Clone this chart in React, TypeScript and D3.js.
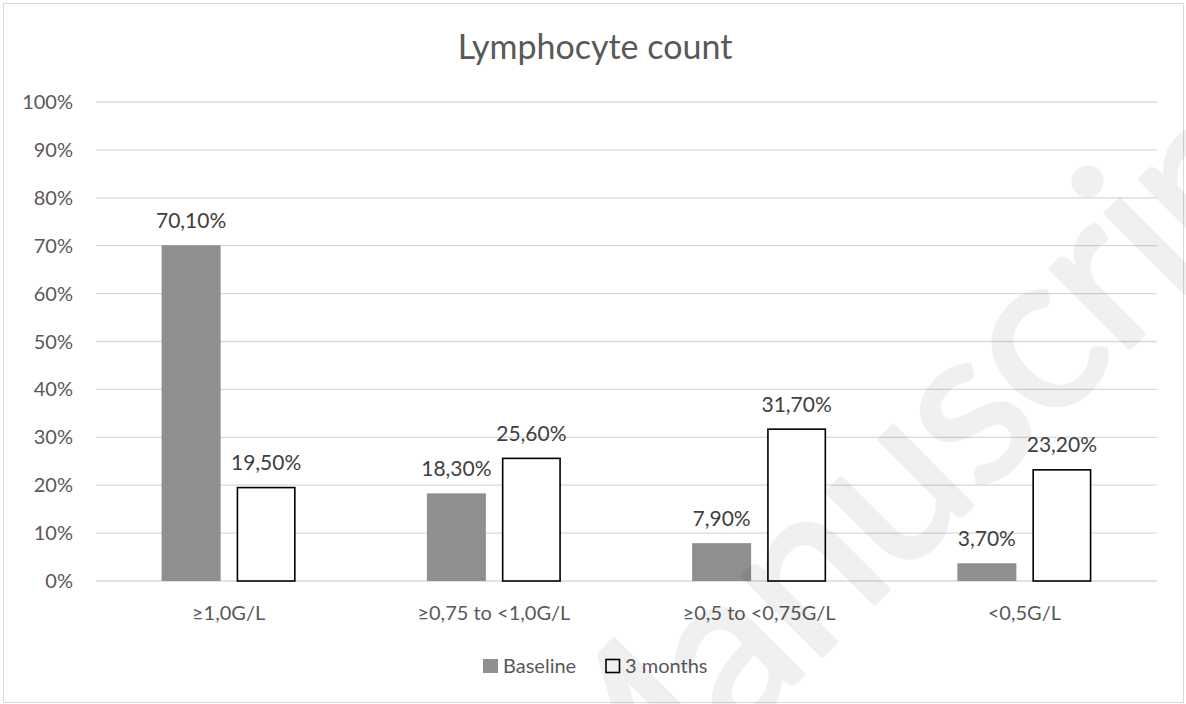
import React from "react";
import * as d3 from "d3";

const categories = ["≥1,0G/L", "≥0,75 to <1,0G/L", "≥0,5 to <0,75G/L", "<0,5G/L"];
const seriesNames = ["Baseline", "3 months"];
const baseline = [70.1, 18.3, 7.9, 3.7];
const months3 = [19.5, 25.6, 31.7, 23.2];
const yTicks = [0, 10, 20, 30, 40, 50, 60, 70, 80, 90, 100];
const title = "Lymphocyte count";
const watermark = "Manuscript";

const W = 1186;
const H = 704;
const FONT = "Lato, 'Open Sans', sans-serif";
const TXT = "#595959";

export default function App() {
  const x0 = d3.scaleBand<string>().domain(categories).range([96, 1157]).paddingInner(0).paddingOuter(0);
  const y = d3.scaleLinear().domain([0, 100]).range([581, 102]);
  const barW = 59;
  const gap = 16;
  const fmt = (v: number) => v.toFixed(2).replace(".", ",") + "%";
  const series = [
    { name: seriesNames[0], values: baseline, fill: "#8f8f8f", stroke: "none" },
    { name: seriesNames[1], values: months3, fill: "#ffffff", stroke: "#000000" },
  ];
  return (
    <svg width={W} height={H} style={{ position: "absolute", left: 0, top: 0, fontFamily: FONT }}>
      <rect x={0} y={0} width={W} height={H} fill="#fff" />
      <rect x={3.5} y={3.5} width={1180} height={699} fill="#fff" stroke="#d9d9d9" strokeWidth={1} />
      {yTicks.map((t) => (
        <g key={t}>
          <line x1={96} x2={1157} y1={y(t)} y2={y(t)} stroke="#d9d9d9" strokeWidth={1.3} />
          <text x={73} y={y(t) + 7} textAnchor="end" fontSize={20} fill={TXT}>
            {t + "%"}
          </text>
        </g>
      ))}
      <text x={595} y={59} textAnchor="middle" fontSize={34} fill={TXT}>
        {title}
      </text>
      {categories.map((c, i) => {
        const cx = (x0(c) as number) + x0.bandwidth() / 2;
        return (
          <g key={c}>
            {series.map((s, j) => {
              const bx = j === 0 ? cx - gap / 2 - barW : cx + gap / 2;
              const v = s.values[i];
              return (
                <g key={s.name}>
                  <rect
                    x={j === 1 ? bx + 0.8 : bx}
                    y={y(v)}
                    width={j === 1 ? barW - 1.6 : barW}
                    height={y(0) - y(v)}
                    fill={s.fill}
                    stroke={s.stroke}
                    strokeWidth={1.6}
                  />
                  <text x={bx + barW / 2} y={y(v) - 17.5} textAnchor="middle" fontSize={21} fill="#404040">
                    {fmt(v)}
                  </text>
                </g>
              );
            })}
            <text x={cx} y={620} textAnchor="middle" fontSize={20} fill={TXT}>
              {c}
            </text>
          </g>
        );
      })}
      <g>
        <rect x={483} y={659} width={15} height={14} fill="#8f8f8f" />
        <text x={503} y={673} fontSize={20} fill={TXT}>
          {seriesNames[0]}
        </text>
        <rect x={606} y={659.5} width={13.5} height={13} fill="#fff" stroke="#000" strokeWidth={1.6} />
        <text x={625} y={673} fontSize={20} fill={TXT}>
          {seriesNames[1]}
        </text>
      </g>
      <text
        x={972}
        y={506}
        textAnchor="middle"
        fontSize={222}
        textLength={1066}
        lengthAdjust="spacing"
        fill="#000"
        stroke="#000"
        strokeWidth={4}
        strokeLinejoin="round"
        opacity={0.055}
        transform="rotate(-45 972 506)"
      >
        {watermark}
      </text>
    </svg>
  );
}
